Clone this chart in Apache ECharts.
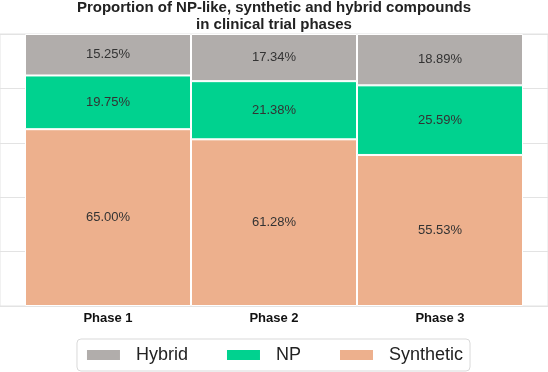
<!DOCTYPE html>
<html>
<head>
<meta charset="utf-8">
<script src="https://cdn.jsdelivr.net/npm/echarts@6/dist/echarts.min.js"></script>
<style>
  html, body { margin: 0; padding: 0; background: #fff; }
  #chart { width: 548px; height: 372px; }
</style>
</head>
<body>
<div id="chart"></div>
<script>
// data
var phases = ['Phase 1', 'Phase 2', 'Phase 3']
var hybrid = [15.25, 17.34, 18.89]
var np = [19.75, 21.38, 25.59]
var synthetic = [65.00, 61.28, 55.53]

var myChart = echarts.init(document.getElementById('chart'))

var labelOpt = {
  show: true,
  position: 'inside',
  color: '#333',
  fontSize: 13,
  formatter: function (p) {
    return p.value.toFixed(2) + '%'
  }
}

function bar(name, data, color) {
  return {
    name: name,
    type: 'bar',
    stack: 'all',
    xAxisIndex: 1,
    yAxisIndex: 1,
    barCategoryGap: '0%',
    data: data,
    itemStyle: { color: color, borderColor: '#fff', borderWidth: 1 },
    label: labelOpt
  }
}

myChart.setOption({
  animation: false,
  textStyle: { fontFamily: 'Liberation Sans, Arial, sans-serif' },
  title: {
    text: 'Proportion of NP-like, synthetic and hybrid compounds\nin clinical trial phases',
    left: 'center',
    top: -5,
    textStyle: { fontSize: 15, fontWeight: 'bold', color: '#222', lineHeight: 16.5 }
  },
  legend: {
    data: ['Hybrid', 'NP', 'Synthetic'],
    bottom: 1,
    left: 'center',
    itemWidth: 35,
    itemHeight: 12,
    itemGap: 37,
    icon: 'rect',
    borderColor: '#d9d9d9',
    borderWidth: 1,
    borderRadius: 4,
    padding: [7, 7, 7, 8],
    textStyle: { fontSize: 18, color: '#222', padding: [0, 0, 0, 10] }
  },
  grid: [
    // background grid: gridlines across full width
    { left: 0, right: 0, top: 34, bottom: 66, show: true, borderColor: '#e3e3e3', borderWidth: 1 },
    // bars
    { left: 25, right: 25, top: 34, bottom: 66 }
  ],
  xAxis: [
    { gridIndex: 0, type: 'value', show: false },
    {
      gridIndex: 1,
      type: 'category',
      data: phases,
      axisLine: { show: false },
      axisTick: { show: false },
      axisLabel: { fontSize: 13, fontWeight: 'bold', color: '#111', margin: 6 }
    }
  ],
  yAxis: [
    {
      gridIndex: 0, type: 'value', min: 0, max: 100, interval: 20,
      axisLine: { show: false }, axisTick: { show: false }, axisLabel: { show: false },
      splitLine: { lineStyle: { color: '#e3e3e3', width: 1 } }
    },
    { gridIndex: 1, type: 'value', min: 0, max: 100, show: false, splitLine: { show: false } }
  ],
  series: [
    bar('Synthetic', synthetic, '#edb08d'),
    bar('NP', np, '#00d28f'),
    bar('Hybrid', hybrid, '#b1adab')
  ]
})
</script>
</body>
</html>
